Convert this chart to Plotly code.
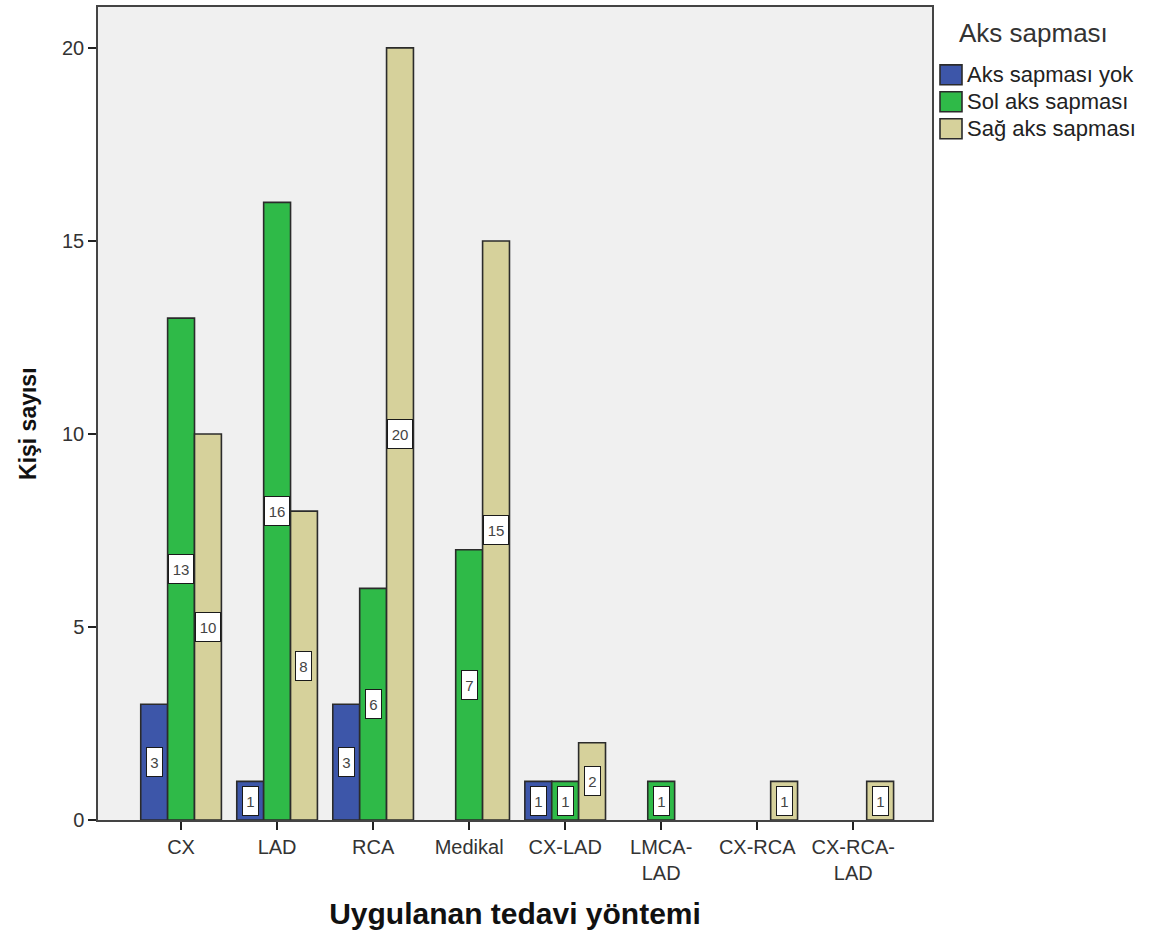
import plotly.graph_objects as go

# Treatment groups and counts per axis-deviation category
categories = ["CX", "LAD", "RCA", "Medikal", "CX-LAD", "LMCA-<br>LAD", "CX-RCA", "CX-RCA-<br>LAD"]
series_names = ["Aks sapması yok", "Sol aks sapması", "Sağ aks sapması"]
aks_yok = [3, 1, 3, 0, 1, 0, 0, 0]
sol_aks = [13, 16, 6, 7, 1, 1, 0, 0]
sag_aks = [10, 8, 20, 15, 2, 0, 1, 1]
y_ticks = [0, 5, 10, 15, 20]

series_values = [aks_yok, sol_aks, sag_aks]
colors = ["#3d56a9", "#2fba48", "#d6d19b"]
offsets = [-0.28, 0.0, 0.28]
bar_w = 0.28
FONT = "Liberation Sans, Arial, sans-serif"

fig = go.Figure()
idx = list(range(len(categories)))

for name, vals, col, off in zip(series_names, series_values, colors, offsets):
    xs = [i + off for i, v in zip(idx, vals) if v > 0]
    ys = [v for v in vals if v > 0]
    fig.add_trace(go.Bar(
        x=xs, y=ys, width=bar_w, name=name,
        marker=dict(color=col, line=dict(color="#2b2b2b", width=1.6)),
        showlegend=False,
    ))
    # value boxes at bar mid-height
    for x, y in zip(xs, ys):
        fig.add_annotation(
            x=x, y=y / 2, text=str(y), showarrow=False,
            font=dict(family=FONT, size=15, color="#444444"),
            bgcolor="white", bordercolor="#1a1a1a", borderwidth=1,
            height=26, width=13 if y < 10 else 22, borderpad=1,
        )

# Plot frame in pixels and helpers to place items around it
L, R, T, B = 98, 932, 5, 820
def px_x(p):
    return (p - L) / (R - L)
def px_y(p):
    return (B - p) / (B - T)

# Legend to the right of the frame
fig.add_annotation(
    xref="paper", yref="paper", x=px_x(957), y=px_y(31), text="Aks sapması",
    showarrow=False, xanchor="left", yanchor="middle",
    font=dict(family=FONT, size=26, color="#333333"),
)
rows = [73, 100, 127]
for name, col, ry in zip(series_names, colors, rows):
    fig.add_shape(
        type="rect", xref="paper", yref="paper",
        x0=px_x(940), x1=px_x(962), y0=px_y(ry - 10), y1=px_y(ry + 10),
        fillcolor=col, line=dict(color="#2b2b2b", width=1.6),
    )
    fig.add_annotation(
        xref="paper", yref="paper", x=px_x(965), y=px_y(ry), text=name,
        showarrow=False, xanchor="left", yanchor="middle",
        font=dict(family=FONT, size=22, color="#222222"),
    )

# Y axis title
fig.add_annotation(
    xref="paper", yref="paper", x=px_x(28), y=px_y(423), text="<b>Kişi sayısı</b>",
    showarrow=False, textangle=-90, xanchor="center", yanchor="middle",
    font=dict(family=FONT, size=23, color="#111111"),
)

fig.update_layout(
    width=1158, height=940,
    margin=dict(l=L, r=1158 - R, t=T, b=940 - B),
    paper_bgcolor="white", plot_bgcolor="#f0f0f0",
    barmode="overlay",
    xaxis=dict(
        range=[-0.865, 7.82], tickmode="array", tickvals=idx, ticktext=categories,
        ticks="outside", ticklen=8, tickwidth=1.5, tickcolor="#222222",
        showgrid=False, zeroline=False, showline=True, linecolor="#444444", linewidth=1.5,
        mirror=True,
        tickfont=dict(family=FONT, size=20, color="#333333"),
        title=dict(text="<b>Uygulanan tedavi yöntemi</b>", standoff=20,
                   font=dict(family=FONT, size=30, color="#111111")),
    ),
    yaxis=dict(
        range=[0, 21.06], tickmode="array", tickvals=y_ticks,
        ticks="outside", ticklen=8, tickwidth=1.5, tickcolor="#222222",
        showgrid=False, zeroline=False, showline=True, linecolor="#444444", linewidth=1.5,
        mirror=True,
        tickfont=dict(family=FONT, size=20, color="#333333"),
    ),
)

fig.write_html("out.html")
